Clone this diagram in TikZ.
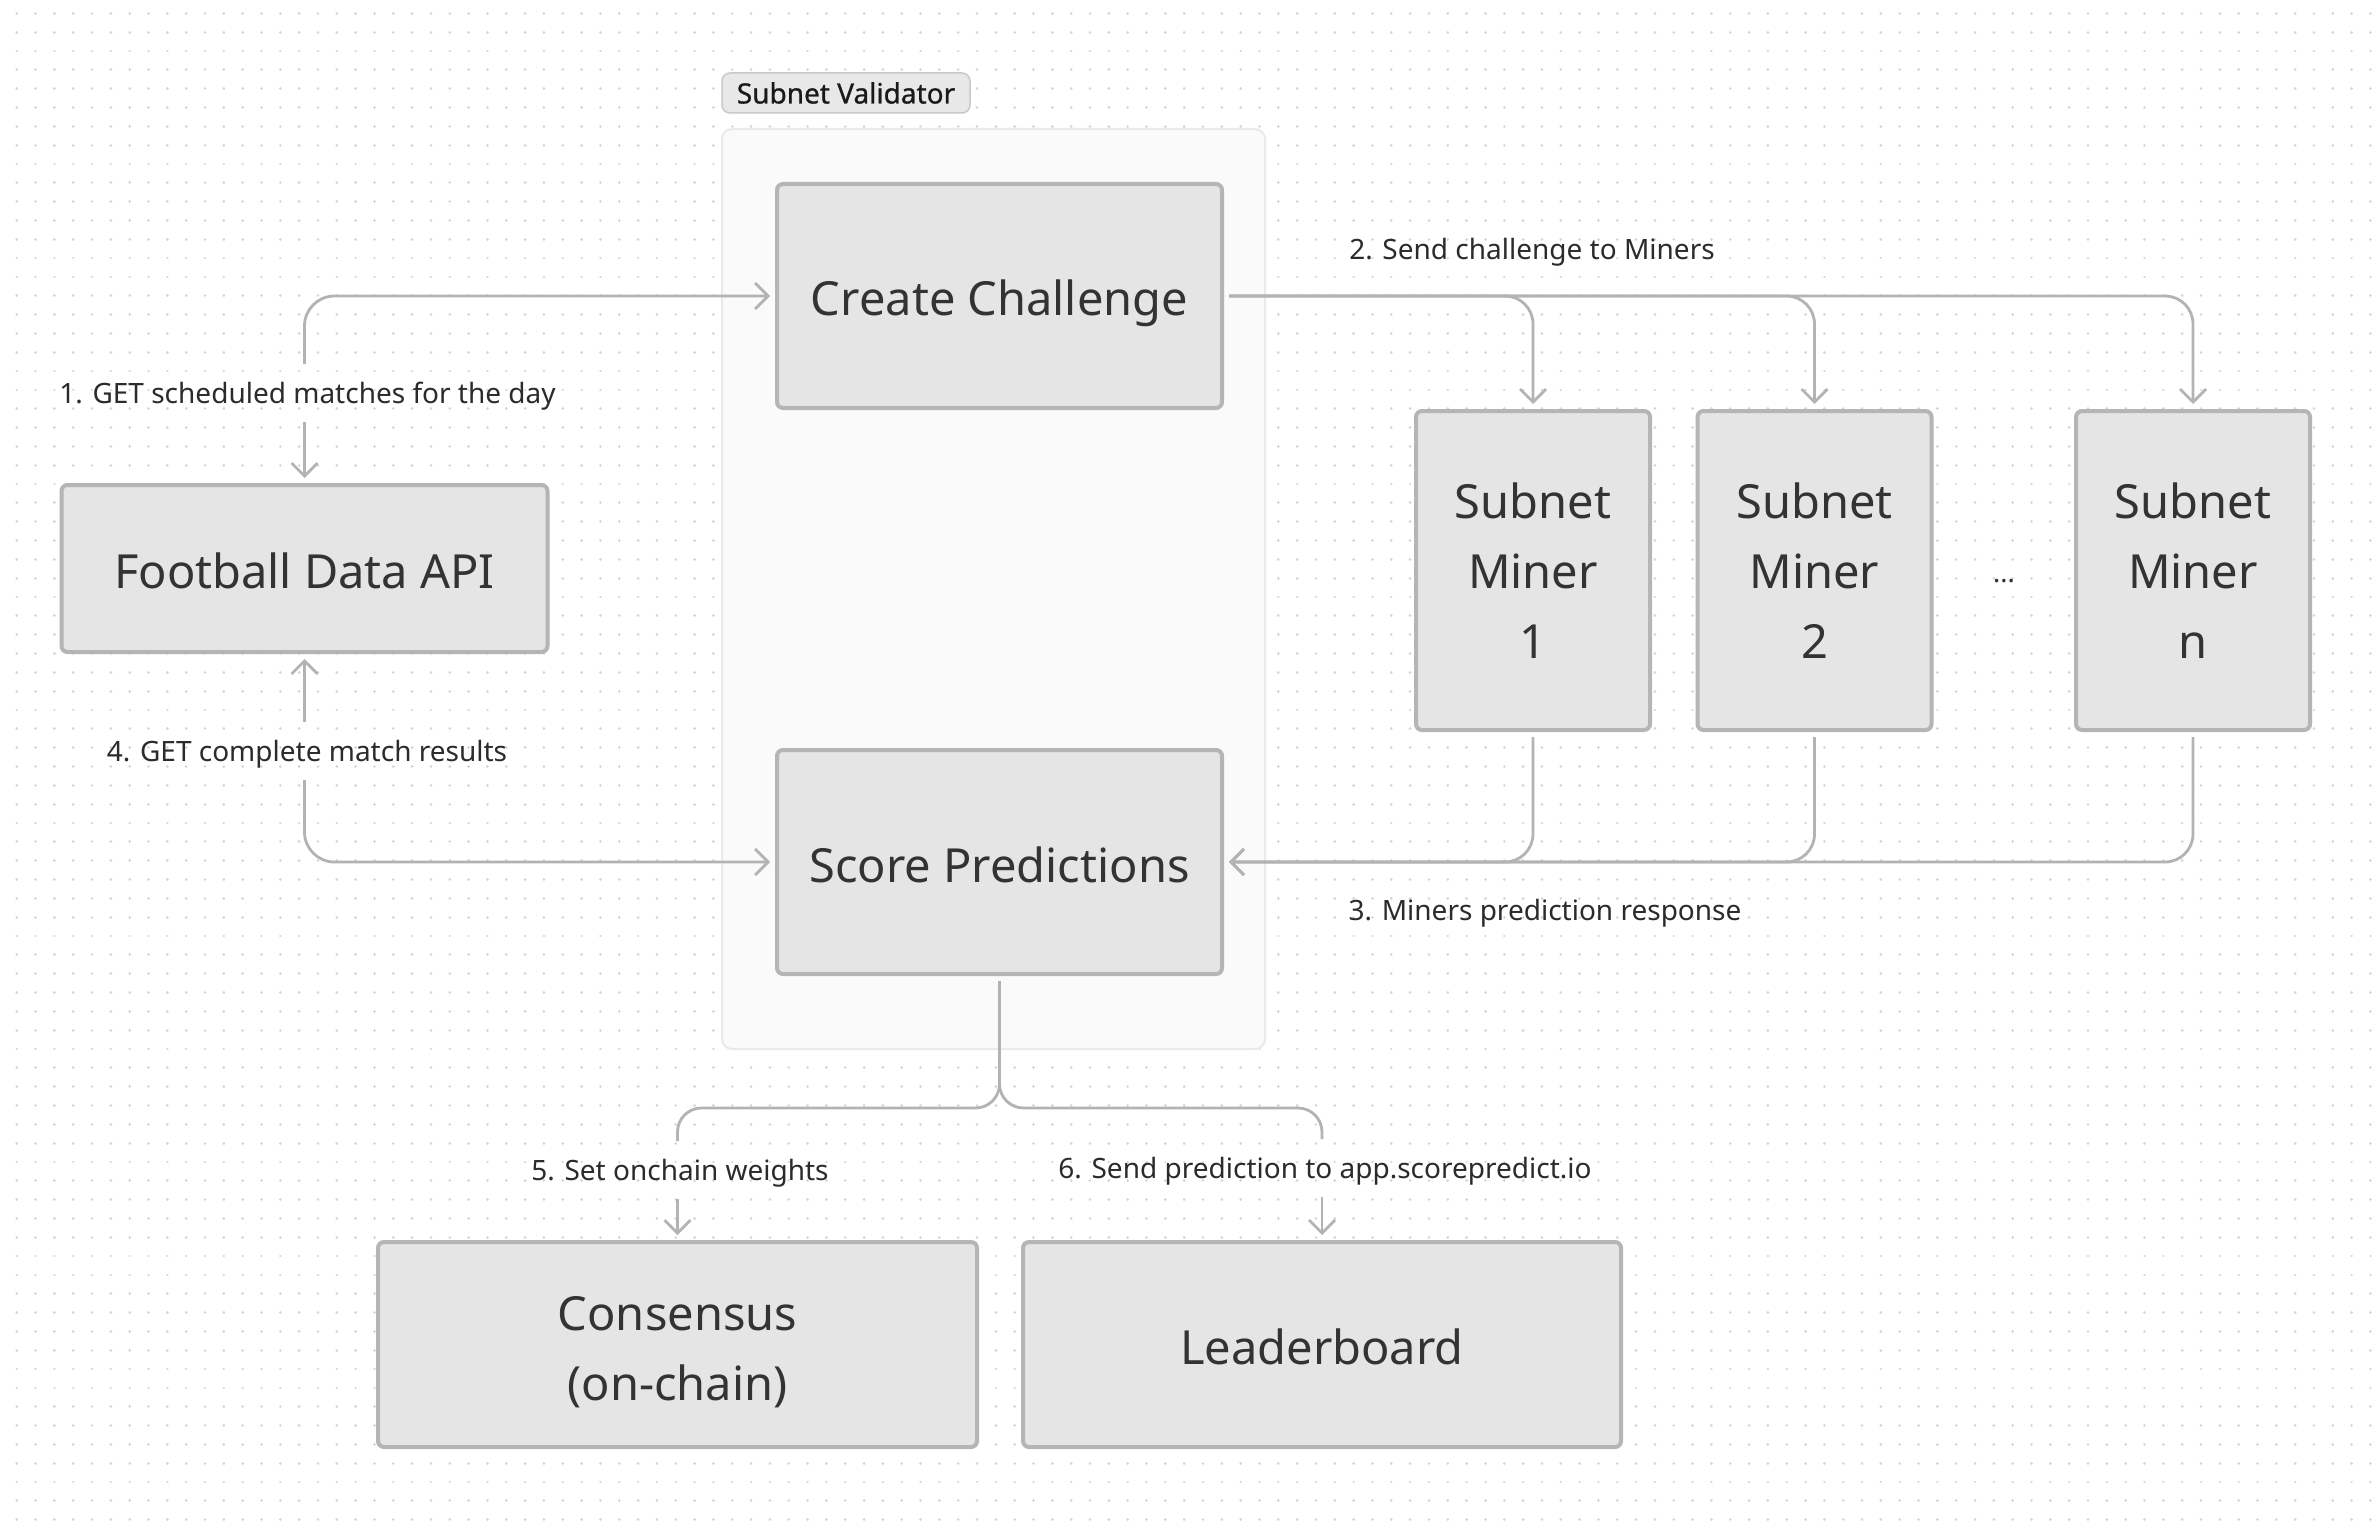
\documentclass[tikz,border=0pt]{standalone}
\usepackage{fontspec}
\setmainfont{Noto Sans}
\newfontfamily\tagfont[FakeBold=0.8]{Noto Sans}
\usetikzlibrary{arrows.meta}
\definecolor{boxfill}{HTML}{E5E5E5}
\definecolor{boxline}{HTML}{B5B5B5}
\definecolor{txt}{HTML}{333333}
\definecolor{lbltxt}{HTML}{2B2B2B}
\definecolor{connc}{HTML}{B3B3B3}
\definecolor{dotc}{HTML}{D4D4D4}
\definecolor{contfill}{HTML}{FAFAFA}
\definecolor{contline}{HTML}{EAEAEA}
\definecolor{tagfill}{HTML}{E8E8E8}
\definecolor{tagline}{HTML}{C9C9C9}
\begin{document}
\begin{tikzpicture}[x=1pt,y=-1pt,
  block/.style={draw=boxline, line width=4pt, fill=boxfill, rounded corners=6pt,
    text=txt, font=\fontsize{47}{70}\selectfont, align=center, inner sep=0pt, outer sep=7pt,
    text depth=0pt},
  one/.style={text height=40pt},
  lbl/.style={text=lbltxt, font=\fontsize{28}{32}\selectfont, inner xsep=4pt, inner ysep=19pt,
    text height=20pt, text depth=0pt, outer sep=0pt},
  conn/.style={draw=connc, line width=2.8pt, -{Straight Barb[length=13pt,width=26pt]}},
  plain/.style={draw=connc, line width=2.8pt},
  dotrow/.style={draw=dotc, line width=2.8pt, line cap=round, dash pattern=on 0.01pt off 18.82pt},
]
\useasboundingbox (0,0) rectangle (2378,1530);
\fill[white] (0,0) rectangle (2378,1530);
% dot grid
\foreach \j in {0,...,80}{
  \draw[dotrow] (16.7, 13.3+18.83*\j) -- (2378, 13.3+18.83*\j);
}
% validator container
\node[draw=contline, line width=2pt, fill=contfill, rounded corners=10pt,
      minimum width=543pt, minimum height=920pt, inner sep=0pt] (valbox) at (993.5,589) {};
\node[draw=tagline, line width=1.5pt, fill=tagfill, rounded corners=8pt,
      minimum width=248pt, minimum height=40pt, inner sep=0pt,
      font=\fontsize{28}{32}\tagfont, text=black!90] (valtag) at (846,93) {Subnet Validator};

% blocks
\node[block, one, minimum width=445pt, minimum height=224pt] (cc) at (999.5,296) {Create Challenge};
\node[block, one, minimum width=445pt, minimum height=224pt] (sp) at (999.5,862) {Score Predictions};
\node[block, one, minimum width=486pt, minimum height=167pt] (fda) at (304.5,568.5) {Football Data API};
\node[block, minimum width=234pt, minimum height=319pt] (m1) at (1533,570.5) {Subnet\\Miner\\1};
\node[block, minimum width=234pt, minimum height=319pt] (m2) at (1814.5,570.5) {Subnet\\Miner\\2};
\node[block, minimum width=234pt, minimum height=319pt] (mn) at (2193,570.5) {Subnet\\Miner\\n};
\node[text=txt, font=\fontsize{27}{32}\selectfont] (ell) at (2004,581) {...};
\node[block, minimum width=599pt, minimum height=205pt] (cons) at (677.5,1344.5) {\rule{0pt}{42pt}Consensus\\(on-chain)};
\node[block, one, minimum width=598pt, minimum height=205pt] (lead) at (1322,1344.5) {Leaderboard};

% labels
\node[lbl] (l1) at (307.5,393) {1. GET scheduled matches for the day};
\node[lbl] (l2) at (1532,250) {2. Send challenge to Miners};
\node[lbl] (l3) at (1545,910) {3. Miners prediction response};
\node[lbl] (l4) at (307,751) {4. GET complete match results};
\node[lbl] (l5) at (680,1170) {5. Set onchain weights};
\node[lbl] (l6) at (1325,1168) {6. Send prediction to app.scorepredict.io};

% connector 1
\draw[conn] (fda.north |- l1.south) -- (fda.north);
\draw[conn, rounded corners=30pt] (fda.north |- l1.north) |- (cc.west);
% connector 2
\draw[conn, rounded corners=28pt] (cc.east) -| (m1.north);
\draw[conn, rounded corners=28pt] (cc.east) -| (m2.north);
\draw[conn, rounded corners=28pt] (cc.east) -| (mn.north);
% connector 3
\draw[conn, rounded corners=28pt] (m1.south) |- (sp.east);
\draw[conn, rounded corners=28pt] (m2.south) |- (sp.east);
\draw[conn, rounded corners=28pt] (mn.south) |- (sp.east);
% connector 4
\draw[conn] (fda.south |- l4.north) -- (fda.south);
\draw[conn, rounded corners=30pt] (fda.south |- l4.south) |- (sp.west);
% connectors 5 and 6
\coordinate (split) at (999.5,1108);
\draw[plain, rounded corners=24pt] (sp.south) -- (split) -- (cons.north |- split) -- (cons.north |- l5.north);
\draw[plain, rounded corners=24pt] (sp.south) -- (split) -- (lead.north |- split) -- (lead.north |- l6.north);
\draw[conn] (cons.north |- l5.south) -- (cons.north);
\draw[conn] (lead.north |- l6.south) -- (lead.north);
\end{tikzpicture}
\end{document}
